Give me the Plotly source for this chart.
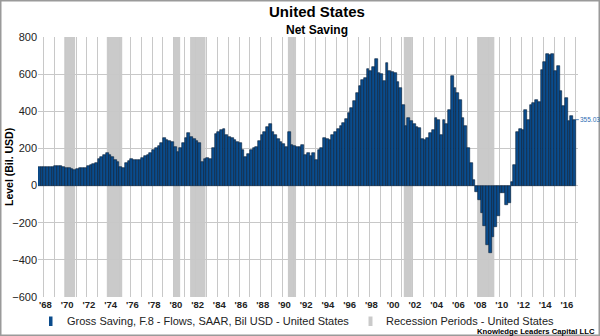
import pandas as pd
import plotly.graph_objects as go

# Quarterly net saving, SAAR, billions of USD, starting 1967Q3
first_quarter = "1967Q3"
net_saving = [
    98, 99,                      # 1967 Q3-Q4
    98, 99, 100, 101,            # 1968
    104, 107, 106, 100,          # 1969
    96, 92, 88, 84,              # 1970
    89, 92, 94, 96,              # 1971
    107, 110, 114, 120,          # 1972
    141, 152, 165, 177,          # 1973
    164, 152, 140, 129,          # 1974
    102, 94, 120, 130,           # 1975
    141, 140, 138, 137,          # 1976
    150, 160, 166, 173,          # 1977
    191, 205, 215, 227,          # 1978
    254, 245, 240, 236,          # 1979
    209, 182, 200, 230,          # 1980
    254, 284, 263, 250,          # 1981
    240, 227, 129, 141,          # 1982
    146, 141, 200, 280,          # 1983
    290, 298, 302, 271,          # 1984
    263, 255, 245, 236,          # 1985
    227, 191, 155, 170,          # 1986
    191, 200, 210, 240,          # 1987
    271, 290, 316, 334,          # 1988
    290, 271, 250, 236,          # 1989
    226, 209, 289, 218,          # 1990
    212, 210, 209, 218,          # 1991
    164, 173, 157, 175,          # 1992
    139, 193, 200, 256,          # 1993
    250, 247, 274, 290,          # 1994
    306, 320, 337, 360,          # 1995
    390, 418, 454, 500,          # 1996
    535, 571, 580, 628,          # 1997
    616, 640, 679, 607,          # 1998
    603, 565, 661, 616,          # 1999
    610, 607, 560, 526,          # 2000
    436, 322, 364, 346,          # 2001
    330, 315, 310, 250,          # 2002
    247, 256, 283, 300,          # 2003
    364, 355, 274, 355,          # 2004
    330, 409, 589, 526,          # 2005
    496, 463, 364, 319,          # 2006
    200, 121, 31, -32,           # 2007
    -77, -150, -215, -320,       # 2008
    -365, -275, -225, -165,      # 2009
    -41, -38, -104, -95,         # 2010
    18, 112, 288, 306,           # 2011
    301, 409, 355, 436,          # 2012
    445, 463, 450, 621,          # 2013
    664, 706, 702, 711,          # 2014
    616, 643, 508, 427,          # 2015
    472, 346, 376, 355.03,       # 2016
]

# NBER recession periods (peak month, trough month)
recessions = [
    ("1969-12", "1970-11"),
    ("1973-11", "1975-03"),
    ("1980-01", "1980-07"),
    ("1981-07", "1982-11"),
    ("1990-07", "1991-03"),
    ("2001-03", "2001-11"),
    ("2007-12", "2009-06"),
]

tick_years = list(range(1968, 2017, 2))
tick_text = ["'" + str(y)[2:] for y in tick_years]
y_ticks = list(range(-600, 801, 200))

series_name = "Gross Saving, F.8 - Flows, SAAR, Bil USD - United States"
recession_name = "Recession Periods - United States"

FONT = "Liberation Sans, Arial, sans-serif"
BAR_FILL = "#0B4C8C"
BAR_EDGE = "#071E38"
SHADE = "#CACACA"
GRID = "#C8C8C8"
LABEL_BLUE = "#2E6DB4"

W, H = 600, 336
ML, MR, MT, MB = 38, 22, 37, 39
PW, PH = W - ML - MR, H - MT - MB


def px_x(px):
    return (px - ML) / PW


def px_y(py):
    return (H - MB - py) / PH


def month_start(s):
    p = pd.Period(s, freq="M")
    return p.year + (p.month - 1) / 12


def month_end(s):
    p = pd.Period(s, freq="M")
    return p.year + p.month / 12


quarters = pd.period_range(first_quarter, periods=len(net_saving), freq="Q")
q_width = 0.25
x_mid = [p.year + (p.quarter - 1) * q_width + q_width / 2 for p in quarters]
x_lo = quarters[0].year + (quarters[0].quarter - 1) * q_width
x_hi = x_mid[-1] + q_width / 2

fig = go.Figure()
fig.add_trace(go.Bar(
    x=x_mid, y=net_saving, width=q_width,
    marker=dict(color=BAR_FILL, line=dict(color=BAR_EDGE, width=0.6)),
    name=series_name, showlegend=False,
))

shapes = []
for start, end in recessions:
    shapes.append(dict(
        type="rect", xref="x", yref="paper",
        x0=month_start(start), x1=month_end(end), y0=0, y1=1,
        fillcolor=SHADE, line=dict(width=0), layer="below",
    ))

# legend swatches
shapes.append(dict(type="rect", xref="paper", yref="paper",
                   x0=px_x(49), x1=px_x(52.5), y0=px_y(326), y1=px_y(316.5),
                   fillcolor=BAR_FILL, line=dict(width=0)))
shapes.append(dict(type="rect", xref="paper", yref="paper",
                   x0=px_x(368.5), x1=px_x(372.5), y0=px_y(326), y1=px_y(316.5),
                   fillcolor=SHADE, line=dict(width=0)))
# outer frame
shapes.append(dict(type="rect", xref="paper", yref="paper",
                   x0=px_x(0.75), x1=px_x(W - 0.75), y0=px_y(H - 0.75), y1=px_y(0.75),
                   line=dict(color="#9A9A9A", width=1.5), fillcolor="rgba(0,0,0,0)"))

annotations = [
    dict(text="<b>United States</b>", xref="paper", yref="paper",
         x=px_x(317), y=px_y(12), xanchor="center", yanchor="middle",
         showarrow=False, font=dict(family=FONT, size=15, color="#000")),
    dict(text="<b>Net Saving</b>", xref="paper", yref="paper",
         x=px_x(317), y=px_y(30), xanchor="center", yanchor="middle",
         showarrow=False, font=dict(family=FONT, size=12, color="#000")),
    dict(text="<b>Level (Bil. USD)</b>", xref="paper", yref="paper",
         x=px_x(9), y=px_y(167), xanchor="center", yanchor="middle",
         textangle=-90, showarrow=False,
         font=dict(family=FONT, size=10.5, color="#000")),
    dict(text=series_name, xref="paper", yref="paper",
         x=px_x(65), y=px_y(321), xanchor="left", yanchor="middle",
         showarrow=False, font=dict(family=FONT, size=11, color="#222")),
    dict(text=recession_name, xref="paper", yref="paper",
         x=px_x(384), y=px_y(321), xanchor="left", yanchor="middle",
         showarrow=False, font=dict(family=FONT, size=11, color="#222")),
    dict(text="<b>Knowledge Leaders Capital LLC</b>", xref="paper", yref="paper",
         x=px_x(597), y=px_y(331), xanchor="right", yanchor="middle",
         showarrow=False, font=dict(family=FONT, size=7.7, color="#000")),
    dict(text=f"{net_saving[-1]:.2f}", xref="x", yref="y",
         x=x_hi, y=net_saving[-1], ax=3, ay=0, axref="pixel", ayref="pixel",
         xanchor="left", yanchor="middle", showarrow=True, arrowhead=0,
         arrowwidth=0.8, arrowcolor=LABEL_BLUE, standoff=0, borderpad=0,
         font=dict(family=FONT, size=6.5, color=LABEL_BLUE)),
]

fig.update_layout(
    width=W, height=H,
    margin=dict(l=ML, r=MR, t=MT, b=MB, pad=0),
    paper_bgcolor="white", plot_bgcolor="white",
    showlegend=False, bargap=0,
    shapes=shapes, annotations=annotations,
    xaxis=dict(
        range=[x_lo, x_hi + 0.2],
        tickmode="array", tickvals=tick_years, ticktext=tick_text,
        ticklabelshift=2,
        tickfont=dict(family=FONT, size=9.5, color="#222", weight="bold"),
        showgrid=True, gridcolor=GRID, gridwidth=1,
        minor=dict(tick0=1968, dtick=1, showgrid=True, gridcolor=GRID, gridwidth=1),
        zeroline=False, showline=False, ticks="",
    ),
    yaxis=dict(
        range=[-600, 800],
        tickmode="array", tickvals=y_ticks,
        tickfont=dict(family=FONT, size=11, color="#222"),
        showgrid=True, gridcolor=GRID, gridwidth=1,
        zeroline=False, showline=False, ticks="",
    ),
)

fig.write_html("out.html")
